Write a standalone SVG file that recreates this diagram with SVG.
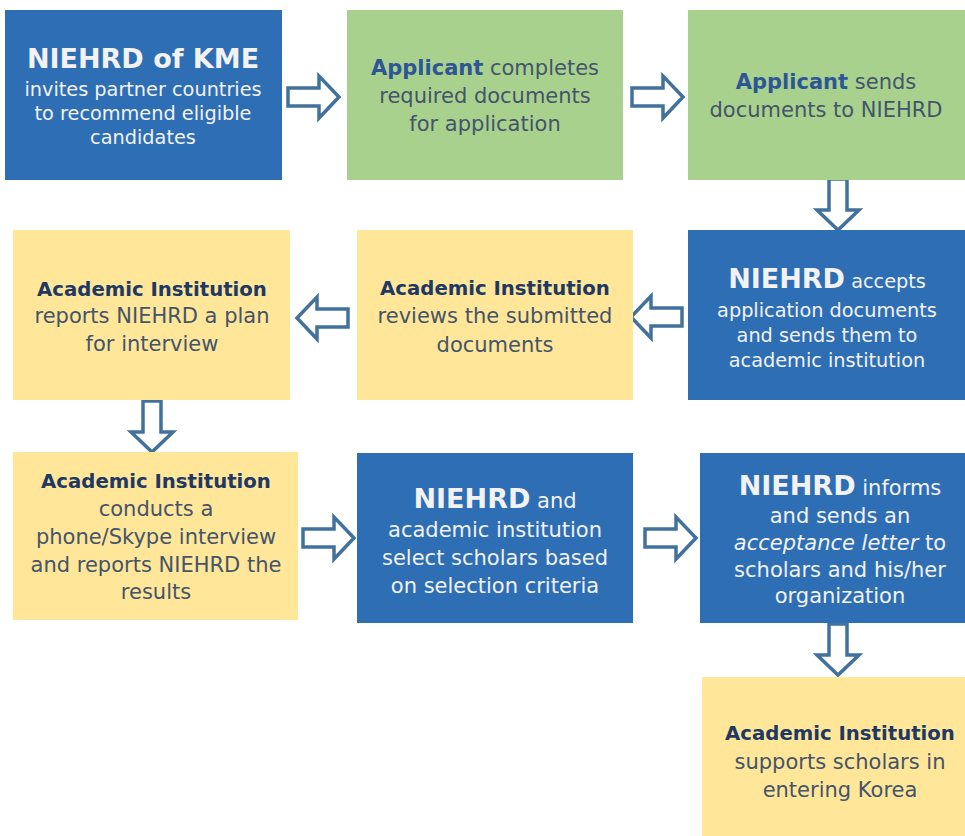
<svg xmlns="http://www.w3.org/2000/svg" xmlns:xlink="http://www.w3.org/1999/xlink" width="965" height="836" viewBox="0 0 965 836">
<style>
.blue{fill:#2E6EB5}
.green{fill:#A9D18E}
.yellow{fill:#FFE699}
text{font-family:"DejaVu Sans","Noto Sans",sans-serif;text-anchor:middle;font-size:21px}
.sm{font-size:19.3px}
.tw{fill:#F2F2F2}
.td{fill:#44546A}
.b{font-weight:bold}
.h{font-size:19.7px}
.big{font-size:27px}
.hg{fill:#2F5597}
.hy{fill:#203864}
.arr{fill:#FFFFFF;stroke:#41719C;stroke-width:3.5;stroke-linejoin:miter}
</style>
<defs>
<path id="ar" class="arr" d="M0,-9 H31 V-21 L51,0 L31,21 V9 H0 Z"/>
</defs>
<rect width="965" height="836" fill="#FFFFFF"/>
<g id="connectors">
<use xlink:href="#ar" href="#ar" transform="translate(288,97)"/>
<use xlink:href="#ar" href="#ar" transform="translate(632,97)"/>
<use xlink:href="#ar" href="#ar" transform="translate(838,179) rotate(90)"/>
<use xlink:href="#ar" href="#ar" transform="translate(682,317) rotate(180)"/>
<use xlink:href="#ar" href="#ar" transform="translate(348,318) rotate(180)"/>
<use xlink:href="#ar" href="#ar" transform="translate(152,401) rotate(90)"/>
<use xlink:href="#ar" href="#ar" transform="translate(303,538)"/>
<use xlink:href="#ar" href="#ar" transform="translate(645,538)"/>
<use xlink:href="#ar" href="#ar" transform="translate(838,624) rotate(90)"/>
</g>
<g id="n1">
<rect class="blue" x="5" y="10" width="277" height="170"/>
<text class="tw b big" x="143" y="68">NIEHRD of KME</text>
<text class="tw sm" x="143" y="96">invites partner countries</text>
<text class="tw sm" x="143" y="120">to recommend eligible</text>
<text class="tw sm" x="143" y="144">candidates</text>
</g>
<g id="n2">
<rect class="green" x="347" y="10" width="276" height="170"/>
<text class="td" x="485" y="75"><tspan class="b hg">Applicant</tspan> completes</text>
<text class="td" x="485" y="103">required documents</text>
<text class="td" x="485" y="131">for application</text>
</g>
<g id="n3">
<rect class="green" x="688" y="10" width="277" height="170"/>
<text class="td" x="826" y="89"><tspan class="b hg">Applicant</tspan> sends</text>
<text class="td" x="826" y="117">documents to NIEHRD</text>
</g>
<g id="n4">
<rect class="blue" x="688" y="230" width="277" height="170"/>
<text class="tw sm" x="827" y="288"><tspan class="b big">NIEHRD</tspan> accepts</text>
<text class="tw sm" x="827" y="317">application documents</text>
<text class="tw sm" x="827" y="342">and sends them to</text>
<text class="tw sm" x="827" y="367">academic institution</text>
</g>
<g id="n5">
<rect class="yellow" x="357" y="230" width="276" height="170"/>
<text class="b h hy" x="495" y="295">Academic Institution</text>
<text class="td" x="495" y="323">reviews the submitted</text>
<text class="td" x="495" y="352">documents</text>
</g>
<g id="n6">
<rect class="yellow" x="13" y="230" width="277" height="170"/>
<text class="b h hy" x="152" y="296">Academic Institution</text>
<text class="td" x="152" y="323">reports NIEHRD a plan</text>
<text class="td" x="152" y="351">for interview</text>
</g>
<g id="n7">
<rect class="yellow" x="13" y="452" width="285" height="168"/>
<text class="b h hy" x="156" y="488">Academic Institution</text>
<text class="td" x="156" y="516">conducts a</text>
<text class="td" x="156" y="544">phone/Skype interview</text>
<text class="td" x="156" y="572">and reports NIEHRD the</text>
<text class="td" x="156" y="599">results</text>
</g>
<g id="n8">
<rect class="blue" x="357" y="453" width="276" height="170"/>
<text class="tw" x="495" y="508"><tspan class="b big">NIEHRD</tspan> and</text>
<text class="tw" x="495" y="537">academic institution</text>
<text class="tw" x="495" y="565">select scholars based</text>
<text class="tw" x="495" y="593">on selection criteria</text>
</g>
<g id="n9">
<rect class="blue" x="700" y="453" width="265" height="170"/>
<text class="tw" x="840" y="495"><tspan class="b big">NIEHRD</tspan> informs</text>
<text class="tw" x="840" y="523">and sends an</text>
<text class="tw" x="840" y="550"><tspan font-style="italic">acceptance letter</tspan> to</text>
<text class="tw" x="840" y="577">scholars and his/her</text>
<text class="tw" x="840" y="603">organization</text>
</g>
<g id="n10">
<rect class="yellow" x="702" y="677" width="263" height="159"/>
<text class="b h hy" x="840" y="740">Academic Institution</text>
<text class="td" x="840" y="769">supports scholars in</text>
<text class="td" x="840" y="797">entering Korea</text>
</g>
</svg>
